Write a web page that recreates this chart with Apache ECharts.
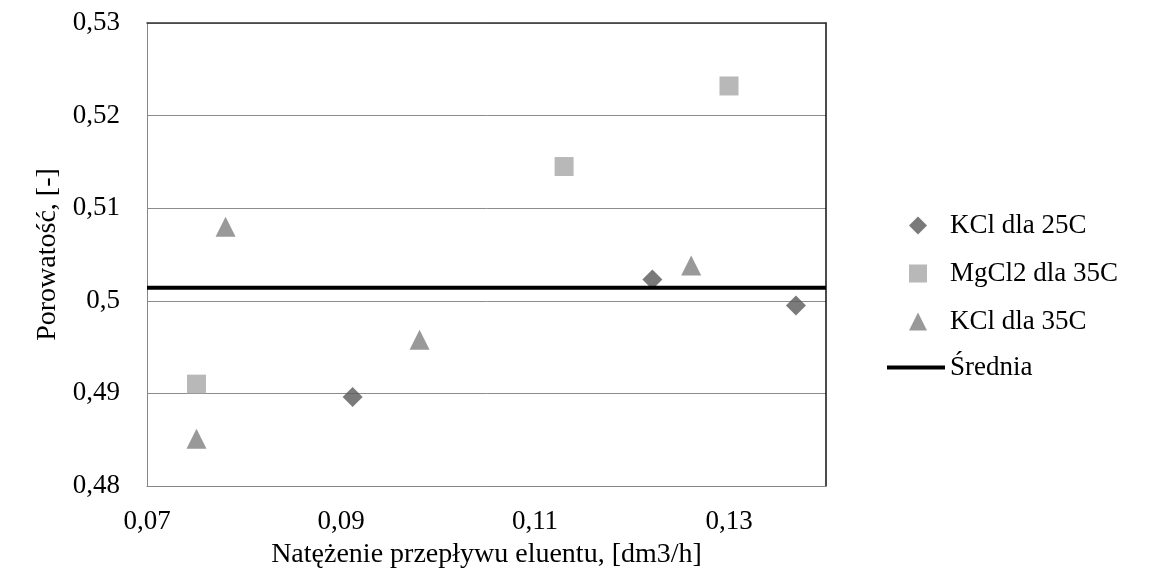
<!DOCTYPE html>
<html>
<head>
<meta charset="utf-8">
<script src="https://cdn.jsdelivr.net/npm/echarts@6/dist/echarts.min.js"></script>
<style>
html,body{margin:0;padding:0;background:#fff;}
#chart{width:1151px;height:579px;}
</style>
</head>
<body>
<div id="chart"></div>
<script>
// ---- data ----
var seriesNames = ['KCl dla 25C', 'MgCl2 dla 35C', 'KCl dla 35C', 'Średnia'];
var kcl25X = [0.0912, 0.1221, 0.1369];
var kcl25Y = [0.4896, 0.5023, 0.4995];
var mgcl35X = [0.0751, 0.1130, 0.1300];
var mgcl35Y = [0.4910, 0.5145, 0.5232];
var kcl35X = [0.0751, 0.0781, 0.0981, 0.1261];
var kcl35Y = [0.4851, 0.5080, 0.4958, 0.5038];
var meanX = [0.07, 0.14];
var meanValue = 0.5014;
var xTicks = [0.07, 0.09, 0.11, 0.13];
var yTicks = [0.48, 0.49, 0.50, 0.51, 0.52, 0.53];
var xTitle = 'Natężenie przepływu eluentu, [dm3/h]';
var yTitle = 'Porowatość, [-]';

function pairs(xs, ys) { return xs.map(function (x, i) { return [x, ys[i]]; }); }
function fmt(v) { return String(parseFloat(v.toFixed(3))).replace('.', ','); }

var FONT = '"Liberation Serif", "Times New Roman", serif';
var chart = echarts.init(document.getElementById('chart'), null, { renderer: 'canvas' });

var legendText = { fontFamily: FONT, fontSize: 27, color: '#000', lineHeight: 27 };

chart.setOption({
  backgroundColor: '#ffffff',
  animation: false,
  grid: { left: 147, right: 325, top: 23, bottom: 93, containLabel: false },
  legend: [{
    orient: 'vertical',
    left: 904,
    top: 207,
    itemWidth: 18,
    itemHeight: 18,
    itemGap: 21,
    data: [
      { name: seriesNames[0], icon: 'diamond' },
      { name: seriesNames[1], icon: 'rect' },
      { name: seriesNames[2], icon: 'triangle' }
    ],
    textStyle: Object.assign({ padding: [0, 0, 0, 18] }, legendText)
  }, {
    orient: 'vertical',
    left: 882,
    top: 349,
    itemWidth: 58,
    itemHeight: 4,
    data: [{ name: seriesNames[3], icon: 'rect' }],
    textStyle: Object.assign({ padding: [0, 0, 0, 0] }, legendText)
  }],
  xAxis: [{
    type: 'value',
    min: xTicks[0],
    max: meanX[1],
    interval: xTicks[1] - xTicks[0],
    name: xTitle,
    nameLocation: 'middle',
    nameGap: 55,
    nameTextStyle: { fontFamily: FONT, fontSize: 28, color: '#000' },
    axisLine: { show: true, lineStyle: { color: '#868686', width: 1 } },
    axisTick: { show: false },
    splitLine: { show: false },
    axisLabel: {
      margin: 22, showMaxLabel: false,
      fontFamily: FONT, fontSize: 27, color: '#000',
      formatter: function (v) { return xTicks.some(function (t) { return Math.abs(t - v) < 1e-9; }) ? fmt(v) : ''; }
    }
  }, {
    type: 'value', position: 'top',
    min: xTicks[0], max: meanX[1],
    axisLine: { show: true, onZero: false, lineStyle: { color: '#333', width: 1.5 } },
    axisTick: { show: false }, axisLabel: { show: false }, splitLine: { show: false }
  }],
  yAxis: [{
    type: 'value',
    min: yTicks[0],
    max: yTicks[yTicks.length - 1],
    interval: 0.01,
    name: yTitle,
    nameLocation: 'middle',
    nameGap: 84,
    nameRotate: 90,
    nameTextStyle: { fontFamily: FONT, fontSize: 28, color: '#000' },
    axisLine: { show: true, lineStyle: { color: '#868686', width: 1 } },
    axisTick: { show: false },
    splitLine: { show: true, lineStyle: { color: '#8c8c8c', width: 1 } },
    axisLabel: { margin: 27, fontFamily: FONT, fontSize: 27, color: '#000', formatter: fmt }
  }, {
    type: 'value', position: 'right',
    min: yTicks[0], max: yTicks[yTicks.length - 1],
    axisLine: { show: true, onZero: false, lineStyle: { color: '#111', width: 1.5 } },
    axisTick: { show: false }, axisLabel: { show: false }, splitLine: { show: false }
  }],
  series: [
    {
      name: seriesNames[0], type: 'scatter', symbol: 'diamond', symbolSize: 20,
      itemStyle: { color: '#595959' }, data: pairs(kcl25X, kcl25Y)
    },
    {
      name: seriesNames[1], type: 'scatter', symbol: 'rect', symbolSize: 19,
      itemStyle: { color: '#a6a6a6' }, data: pairs(mgcl35X, mgcl35Y)
    },
    {
      name: seriesNames[2], type: 'scatter', symbol: 'triangle', symbolSize: 20,
      itemStyle: { color: '#808080' }, data: pairs(kcl35X, kcl35Y)
    },
    {
      name: seriesNames[3], type: 'line', showSymbol: false, symbol: 'none',
      lineStyle: { color: '#000', width: 4 }, itemStyle: { color: '#000' },
      data: meanX.map(function (x) { return [x, meanValue]; })
    }
  ]
});
</script>
</body>
</html>
